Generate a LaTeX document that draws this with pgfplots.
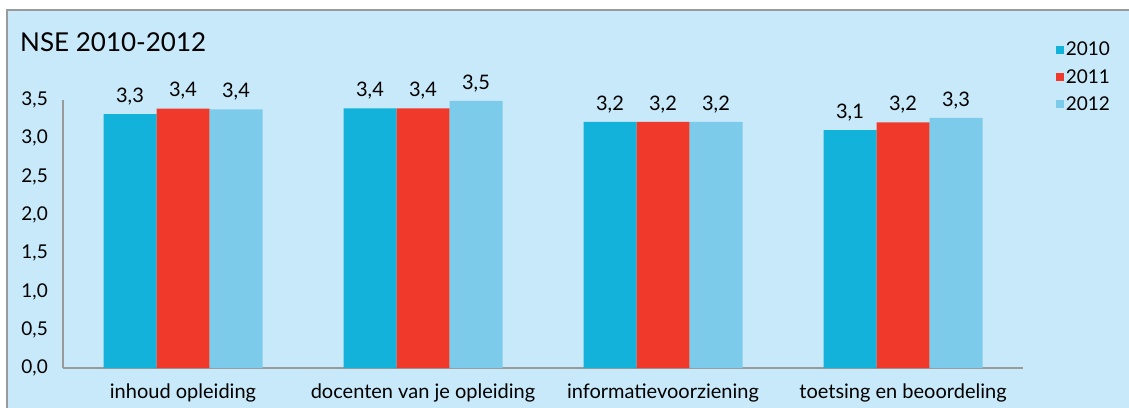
\documentclass[border=0pt]{standalone}
\usepackage{pgfplots}
\pgfplotsset{compat=1.18}
\usepackage{fontspec}
\setmainfont{Lato}
\definecolor{bg}{HTML}{C7E9F9}
\definecolor{frame}{HTML}{9A9A9A}
\definecolor{cA}{HTML}{12B2DA}
\definecolor{cB}{HTML}{F0392B}
\definecolor{cC}{HTML}{7DCBEA}
\begin{document}
\begin{tikzpicture}[x=1pt,y=1pt]
\useasboundingbox (0,0) rectangle (1129,407);
\fill[white] (0,0) rectangle (1129,407);
\filldraw[fill=bg, draw=frame, line width=1.5pt] (7,-10) rectangle (1140,397);
\node[anchor=base west, inner sep=0pt, font=\fontsize{26}{30}\selectfont] at (20,355) {NSE 2010-2012};
\begin{axis}[
  at={(63pt,39pt)}, anchor=south west,
  scale only axis, width=960pt, height=268pt,
  xmin=-0.5, xmax=3.5, ymin=0, ymax=3.5,
  axis lines*=left,
  axis line style={draw=frame, line width=1.2pt},
  ybar=0pt, bar width=53pt,
  major tick length=0pt,
  xtick={0,1,2,3},
  xticklabels={inhoud opleiding, docenten van je opleiding, informatievoorziening, toetsing en beoordeling},
  ytick={0,0.5,1,1.5,2,2.5,3,3.5},
  /pgf/number format/assume math mode=true,
  yticklabel={\pgfmathprintnumber[fixed, fixed zerofill, precision=1, use comma]{\tick}},
  y tick label style={font=\fontsize{19}{21}\selectfont, inner sep=0pt, anchor=east, xshift=-15pt},
  x tick label style={font=\fontsize{20}{22}\selectfont, inner sep=0pt, anchor=north, yshift=-16pt},
  nodes near coords,
  nodes near coords style={font=\fontsize{20}{22}\selectfont, inner sep=0pt, anchor=south, yshift=9pt,
    /pgf/number format/.cd, fixed, fixed zerofill, precision=1, use comma},
  legend image code/.code={\fill[#1] (0pt,-4pt) rectangle (8pt,4pt);},
  legend style={at={(1.034,1.224)}, anchor=north west, draw=none, fill=none,
    font=\fontsize{19}{21}\selectfont, row sep=8pt, inner sep=0pt,
    /tikz/every even column/.append style={column sep=2pt}},
  legend cell align=left,
  clip=false,
]
\addplot[fill=cA, draw=none] coordinates {(0,3.317) (1,3.39) (2,3.213) (3,3.108)};
\addplot[fill=cB, draw=none] coordinates {(0,3.386) (1,3.39) (2,3.213) (3,3.209)};
\addplot[fill=cC, draw=none] coordinates {(0,3.378) (1,3.487) (2,3.213) (3,3.265)};
\legend{2010,2011,2012}
\end{axis}
\end{tikzpicture}
\end{document}
